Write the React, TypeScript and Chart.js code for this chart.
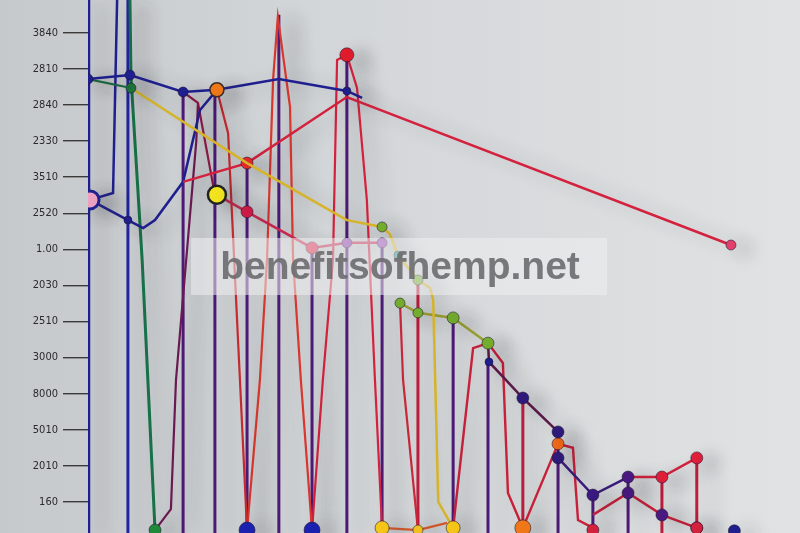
import React, { useEffect, useRef } from "react";
import { Chart, registerables } from "chart.js";
Chart.register(...registerables);

// y tick labels, bottom (tick 1) to top (tick 14)
const yTickLabels = ["160", "2010", "5010", "8000", "3000", "2510", "2030", "1.00", "2520", "3510", "2330", "2840", "2810", "3840"];
const yTickValues = [1, 2, 3, 4, 5, 6, 7, 8, 9, 10, 11, 12, 13, 14];

const NAVY = "#1f1f8f";
const PURPLE = "#4e1a78";
const RED = "#d4213d";
const MAROON = "#8c1a45";
const GREEN = "#74ad2e";
const YELLOW = "#d6b42a";

// series
const navyTopX = [0, 1.24, 2.81, 3.81, 5.64, 7.65, 8.1];
const navyTopY = [12.72, 12.83, 12.36, 12.42, 12.72, 12.39, 12.2];
const axisX = [0, 0];
const axisY = [14.91, 0.14];
const navy2X = [1.18, 1.18];
const navy2Y = [14.91, 0.14];
const blueLeftX = [0.06, 0.74, 0.86];
const blueLeftY = [9.37, 9.56, 14.91];
const blueDipX = [0.06, 1.18, 1.63, 1.98, 2.81, 3.31, 3.81];
const blueDipY = [9.37, 8.81, 8.59, 8.81, 9.87, 11.86, 12.42];
const greenSteepX = [1.24, 1.27, 1.6, 1.98];
const greenSteepY = [14.91, 12.78, 7.71, 0.22];
const greenLinkX = [0, 1.27];
const greenLinkY = [12.72, 12.47];
const yellowX = [1.27, 4.7, 7.65, 8.69, 8.92, 9.16, 9.75, 10.11, 10.2, 10.35, 10.79];
const yellowY = [12.47, 10.39, 8.81, 8.62, 8.42, 7.84, 7.15, 6.93, 6.6, 1.0, 0.28];
const greenLineX = [9.22, 9.75, 10.79, 11.82];
const greenLineY = [6.51, 6.24, 6.1, 5.4];
const maroonX = [11.82, 11.85, 12.85, 13.89];
const maroonY = [5.4, 4.88, 3.88, 2.94];
const navyMidX = [13.89, 14.92, 15.96];
const navyMidY = [2.22, 1.19, 1.69];
const redTailX = [15.96, 16.96, 17.99];
const redTailY = [1.69, 1.69, 2.22];
const redLowX = [14.92, 15.96, 16.96, 17.99];
const redLowY = [0.64, 1.25, 0.64, 0.28];
const redLongX = [2.81, 4.7, 7.65, 19.0];
const redLongY = [9.87, 10.39, 12.22, 8.12];
const pinkRedX = [3.81, 4.7, 6.62, 7.65, 8.69];
const pinkRedY = [9.51, 9.04, 8.04, 8.18, 8.18];
const zigAX = [4.7, 5.08, 5.29, 5.47, 5.61, 5.97, 6.06, 6.29, 6.62];
const zigAY = [0.22, 4.38, 7.71, 12.72, 14.44, 11.95, 7.71, 4.38, 0.22];
const zigBX = [6.62, 6.94, 7.24, 7.36, 7.65, 7.95, 8.24, 8.48, 8.69];
const zigBY = [0.22, 4.38, 7.71, 13.25, 13.39, 12.47, 9.37, 4.38, 0.28];
const zigCX = [3.81, 4.14, 4.49, 4.7];
const zigCY = [12.42, 11.22, 4.38, 0.22];
const zigDX = [2.81, 3.25, 3.75];
const zigDY = [12.36, 12.06, 9.51];
const zigEX = [1.98, 2.45, 2.6, 3.2, 3.25];
const zigEY = [0.22, 0.8, 4.38, 11.0, 12.06];
const zigGX = [9.22, 9.31, 9.75];
const zigGY = [6.51, 4.38, 0.22];
const zigIX = [10.79, 11.38, 11.82, 12.26, 12.41, 12.85, 13.89, 14.33, 14.48, 14.92];
const zigIY = [0.28, 5.26, 5.4, 4.85, 1.25, 0.28, 2.61, 2.5, 0.5, 0.28];
const zigJX = [8.69, 9.75, 10.61];
const zigJY = [0.28, 0.22, 0.42];
const vertPurpleX = [2.81, 3.75, 4.7, 5.64, 6.62, 7.65, 8.69, 10.79, 11.82, 13.89, 14.92, 15.96];
const vertPurpleTop = [12.36, 12.42, 10.39, 14.5, 8.04, 13.39, 8.18, 6.1, 4.88, 2.94, 1.19, 1.69];
const vertRedX = [9.75, 12.85, 16.96, 17.99];
const vertRedTop = [7.15, 3.88, 1.69, 2.22];
const bottomDotX = [1.98, 4.7, 6.62, 8.69, 9.75, 10.79, 12.85, 14.92, 17.99, 19.1];
const bottomDotY = [0.22, 0.22, 0.22, 0.28, 0.22, 0.28, 0.28, 0.22, 0.28, 0.2];
const bottomDotColor = ["#1f8a3a", "#1c22b0", "#1c22b0", "#f5c518", "#f0c020", "#f5c518", "#f07818", RED, RED, NAVY];
const bottomDotR = [6, 8, 8, 7, 5, 7, 8, 6, 6, 6];
const markerX = [0.06, 3.81, 3.81];
const markerY = [9.37, 9.51, 12.42];
const markerColor = ["#f4a6c6", "#f5e81e", "#f07818"];
const markerBorder = [NAVY, "#222222", "#3a2a2a"];
const markerR = [9, 9, 7];

function mk(xs: number[], ys: number[], color: string, width: number, radii: number[] = [], dots: string[] = []) {
  return {
    data: xs.map((x, i) => ({ x, y: ys[i] })),
    borderColor: color,
    borderWidth: width,
    showLine: width > 0,
    tension: 0,
    pointRadius: xs.map((_, i) => radii[i] ?? 0),
    pointBackgroundColor: xs.map((_, i) => dots[i] || color),
    pointBorderColor: "rgba(30,20,50,0.55)",
    pointBorderWidth: 1,
  };
}

function verticals(xs: number[], tops: number[], color: string, width: number) {
  const data: any[] = [];
  xs.forEach((x, i) => {
    data.push({ x, y: tops[i] }, { x, y: 0.14 }, { x, y: null });
  });
  return { data, borderColor: color, borderWidth: width, showLine: true, pointRadius: 0, spanGaps: false, tension: 0 };
}

export default function App() {
  const ref = useRef<HTMLCanvasElement>(null);
  useEffect(() => {
    if (!ref.current) return;
    const bg = {
      id: "bg",
      beforeDraw(c: any) {
        const ctx = c.ctx;
        const g = ctx.createLinearGradient(0, 0, 800, 0);
        g.addColorStop(0, "#c6c9cc");
        g.addColorStop(0.4, "#d3d6d8");
        g.addColorStop(1, "#e0e2e3");
        ctx.save();
        ctx.fillStyle = g;
        ctx.fillRect(0, 0, 800, 533);
        ctx.restore();
      },
      beforeDatasetsDraw(c: any) {
        const ctx = c.ctx;
        ctx.save();
        ctx.shadowColor = "rgba(50,50,60,0.32)";
        ctx.shadowBlur = 18;
        ctx.shadowOffsetX = 14;
        ctx.shadowOffsetY = 4;
      },
      afterDatasetsDraw(c: any) {
        c.ctx.restore();
      },
      afterDraw(c: any) {
        const ctx = c.ctx;
        ctx.save();
        ctx.fillStyle = "rgba(238,238,240,0.55)";
        ctx.fillRect(191, 238, 416, 57);
        ctx.font = "bold 39px 'Liberation Sans', Arial, sans-serif";
        ctx.fillStyle = "rgba(105,105,108,0.88)";
        ctx.textAlign = "center";
        ctx.textBaseline = "middle";
        ctx.fillText("benefitsofhemp.net", 400, 268);
        ctx.restore();
      },
    };
    const datasets: any[] = [
      {
        data: markerX.map((x, i) => ({ x, y: markerY[i] })),
        showLine: false,
        pointRadius: markerR,
        pointBackgroundColor: markerColor,
        pointBorderColor: markerBorder,
        pointBorderWidth: [3, 2.5, 1.5],
      },
      mk(bottomDotX, bottomDotY, NAVY, 0, bottomDotR, bottomDotColor),
      mk(navyTopX, navyTopY, NAVY, 2.5, [5, 5, 5, 0, 0, 4, 0]),
      mk(greenLinkX, greenLinkY, "#1d6a40", 2.2),
      mk(yellowX, yellowY, YELLOW, 2.5, [5, 0, 0, 5, 0, 4, 5, 0, 0, 0, 0], ["#1f7a3a", "", "", GREEN, "", "#2a9a8a", GREEN]),
      mk(greenLineX, greenLineY, "#9aa030", 2.5, [5, 5, 6, 6], [GREEN, GREEN, GREEN, GREEN]),
      mk(maroonX, maroonY, "#5a1a4a", 2.5, [0, 4, 6, 6], ["", NAVY, "#2e1a7a", "#2e1a7a"]),
      mk(navyMidX, navyMidY, "#3a1a7a", 2.5, [6, 6, 6], ["#2e1a7a", "#3a1a80", "#4a1a80"]),
      mk(redTailX, redTailY, RED, 2.5, [0, 6, 6], ["", "#e0203a", "#e0203a"]),
      mk(redLowX, redLowY, "#c4203a", 2.5, [0, 6, 6, 6], ["", "#4a1a80", "#4a1a80", "#e0203a"]),
      mk(redLongX, redLongY, RED, 2.5, [0, 6, 0, 5], ["", "#e82a2a", "", "#e0406a"]),
      mk(pinkRedX, pinkRedY, "#c82850", 2.5, [0, 6, 6, 5, 5], ["", "#d01c48", "#e0284a", "#8a3aa8", "#9a4ab8"]),
      mk(blueDipX, blueDipY, NAVY, 2.5, [0, 4]),
      mk(blueLeftX, blueLeftY, NAVY, 2.5),
      mk(zigDX, zigDY, MAROON, 2.2),
      mk(zigCX, zigCY, "#c42a30", 2.2),
      mk(zigAX, zigAY, "#d8362e", 2.2),
      mk(zigBX, zigBY, RED, 2.2, [0, 0, 0, 0, 7], ["", "", "", "", "#e01c2c"]),
      mk(zigEX, zigEY, "#6a1a50", 2.2),
      mk(zigGX, zigGY, "#c8283a", 2.2),
      mk(zigIX, zigIY, "#c8203a", 2.4, [0, 0, 0, 0, 0, 0, 6], ["", "", "", "", "", "", "#f06a18"]),
      mk(zigJX, zigJY, "#d85a2a", 2.2),
      mk(greenSteepX, greenSteepY, "#177048", 3),
      verticals(vertPurpleX, vertPurpleTop, PURPLE, 3),
      verticals(vertRedX, vertRedTop, "#c01e3c", 3),
      mk(axisX, axisY, NAVY, 4.5),
      mk(navy2X, navy2Y, "#2325a0", 3),
    ];
    const chart = new Chart(ref.current, {
      type: "scatter",
      data: { datasets },
      plugins: [bg],
      options: {
        animation: false,
        responsive: false,
        devicePixelRatio: 1,
        layout: { padding: 0, autoPadding: false },
        plugins: { legend: { display: false }, tooltip: { enabled: false } },
        elements: { line: { tension: 0 } },
        scales: {
          x: { type: "linear", min: 0, max: 21.04, display: false },
          y: {
            type: "linear",
            min: 0.1386,
            max: 14.91,
            border: { display: false },
            grid: { drawOnChartArea: false, drawTicks: true, tickLength: 25, color: "#3a3a3a", lineWidth: 1.4 },
            afterBuildTicks: (s: any) => {
              s.ticks = yTickValues.map((v) => ({ value: v }));
            },
            afterFit: (s: any) => {
              s.width = 88;
              s.paddingTop = 0;
              s.paddingBottom = 0;
            },
            ticks: {
              padding: 5,
              color: "#2a2a2a",
              font: { family: "'DejaVu Sans Condensed', 'Liberation Sans', sans-serif", size: 11 },
              callback: (v: any) => {
                const i = yTickValues.indexOf(Number(v));
                return i >= 0 ? yTickLabels[i] : "";
              },
            },
          },
        },
      },
    });
    return () => chart.destroy();
  }, []);
  return (
    <div style={{ position: "absolute", left: 0, top: 0, width: 800, height: 533 }}>
      <canvas ref={ref} width={800} height={533} />
    </div>
  );
}
